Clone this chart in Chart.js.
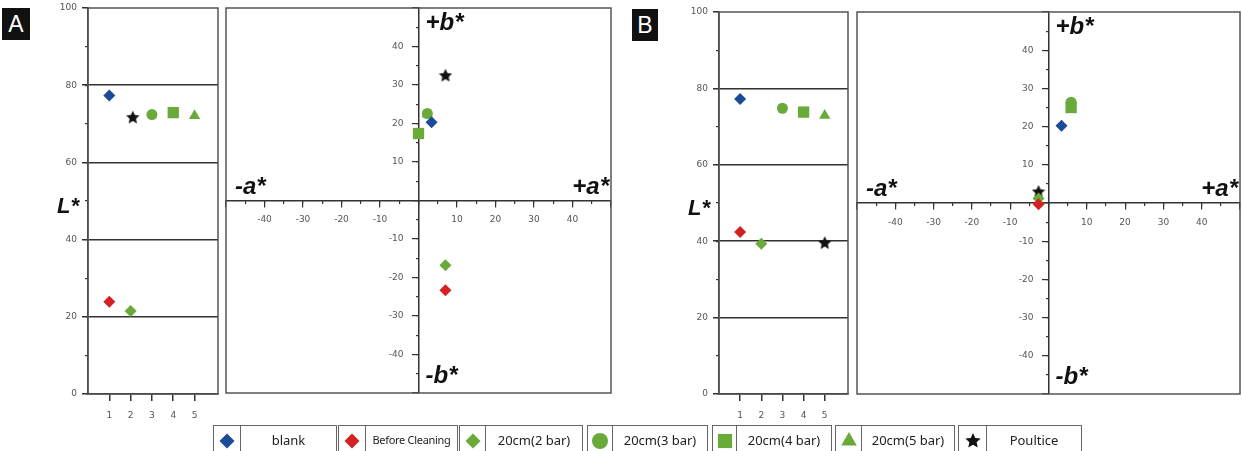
<!DOCTYPE html>
<html>
<head>
<meta charset="utf-8">
<script src="https://cdn.jsdelivr.net/npm/chart.js@4/dist/chart.umd.min.js"></script>
<style>
  html, body { margin: 0; padding: 0; background: #fff; }
  #wrap { position: relative; width: 1242px; height: 451px; overflow: hidden; }
  #wrap canvas.layer { position: absolute; left: 0; top: 0; }
  .tag { position: absolute; background: #111; color: #fff; font: 23px "Liberation Sans", Arial, sans-serif; text-align: center; }
  .leg { position: absolute; top: 425px; height: 32px; display: flex; }
  .leg .ic, .leg .tx { border: 1.5px solid #666; box-sizing: border-box; height: 32px; }
  .leg .ic { display: flex; justify-content: center; padding-top: 6px; }
  .leg .tx { border-left: none; font: 13px "Noto Sans", sans-serif; color: #222; text-align: center; line-height: 28px; white-space: nowrap; }
</style>
</head>
<body>
<div id="wrap">
  <canvas class="layer" id="lA" width="1242" height="451"></canvas>
  <canvas class="layer" id="abA" width="1242" height="451"></canvas>
  <canvas class="layer" id="lB" width="1242" height="451"></canvas>
  <canvas class="layer" id="abB" width="1242" height="451"></canvas>
  <div class="tag" style="left:2px;top:8px;width:28px;height:32px;line-height:32px;">A</div>
  <div class="tag" style="left:632px;top:9px;width:26px;height:32px;line-height:32px;">B</div>
</div>
<script>
// samples (one dataset each)
var samples = ["blank", "Before Cleaning", "20cm(2 bar)", "20cm(3 bar)", "20cm(4 bar)", "20cm(5 bar)", "Poultice"];
var lTicks = [1, 2, 3, 4, 5];

// panel A
var lPosA = [1, 1, 2, 3, 4, 5, 2.1];
var lValA = [77.3, 23.9, 21.5, 72.4, 72.9, 72.1, 71.7];
var aValA = [3.4, 7.0, 7.0, 2.3, 0.0, 2.3, 7.0];
var bValA = [20.3, -23.3, -16.8, 22.6, 17.4, 22.4, 32.5];

// panel B
var lPosB = [1, 1, 2, 3, 4, 5, 5];
var lValB = [77.2, 42.4, 39.3, 74.8, 73.8, 72.9, 39.6];
var aValB = [3.4, -2.6, -2.6, 5.9, 5.9, 5.9, -2.6];
var bValB = [20.2, -0.3, 1.2, 26.4, 25.0, 25.3, 3.0];

var colors = ["#1b4a96", "#d42222", "#69aa3b", "#69aa3b", "#69aa3b", "#69aa3b", "#111111"];
var shapes = ["rectRot", "rectRot", "rectRot", "circle", "rect", "triangle", "star"];
var radii = [6, 6, 6, 5.5, 8, 6.5, 6];

var axisColor = "#333";
var labelColor = "#555";
var tickFont = { family: "'DejaVu Sans', sans-serif", size: 9 };
var axisTitleFont = "italic bold 24px 'Liberation Sans'";

function drawMarker(ctx, style, x, y, r, color) {
  ctx.fillStyle = color;
  ctx.beginPath();
  if (style == "rectRot") {
    ctx.moveTo(x, y - r); ctx.lineTo(x + r, y); ctx.lineTo(x, y + r); ctx.lineTo(x - r, y);
  } else if (style == "circle") {
    ctx.arc(x, y, r, 0, Math.PI * 2);
  } else if (style == "rect") {
    var h = r * Math.SQRT1_2;
    ctx.rect(x - h, y - h, 2 * h, 2 * h);
  } else if (style == "triangle") {
    for (var k = 0; k < 3; k++) {
      var a = k * 2 * Math.PI / 3;
      ctx[k ? "lineTo" : "moveTo"](x + Math.sin(a) * r, y - Math.cos(a) * r);
    }
  } else if (style == "star") {
    for (var j = 0; j < 10; j++) {
      var rr = j % 2 ? r * 0.48 : r;
      var b = j * Math.PI / 5;
      ctx[j ? "lineTo" : "moveTo"](x + Math.sin(b) * rr, y - Math.cos(b) * rr);
    }
  }
  ctx.closePath();
  ctx.fill();
}

function starImage(size) {
  var c = document.createElement("canvas");
  c.width = c.height = size;
  drawMarker(c.getContext("2d"), "star", size / 2, size / 2 + 0.5, size / 2, "#111");
  return c;
}
var starImg = starImage(14);

function makeDatasets(xs, ys) {
  return samples.map(function (name, i) {
    return {
      label: name,
      data: [{ x: xs[i], y: ys[i] }],
      pointStyle: shapes[i] == "star" ? starImg : shapes[i],
      pointRadius: radii[i],
      backgroundColor: colors[i],
      borderWidth: 0
    };
  });
}

// keep the scale from pushing the plot area around
function fixSize(w, h) {
  return function (s) {
    if (w !== null) s.width = w;
    if (h !== null) s.height = h;
    s.paddingTop = s.paddingBottom = s.paddingLeft = s.paddingRight = 0;
  };
}

// short tick marks only (no line, no labels)
function minorAxis(axis, min, max, pos, step) {
  return {
    axis: axis, min: min, max: max, position: pos,
    afterFit: axis == "x" ? fixSize(null, 0) : fixSize(0, null),
    border: { display: false },
    grid: { drawOnChartArea: false, tickLength: 3, color: axisColor, lineWidth: 1.2 },
    ticks: { stepSize: step, display: false, autoSkip: false }
  };
}

// frame round the plot area
var framePlugin = {
  id: "frame",
  beforeDatasetsDraw: function (chart) {
    var ca = chart.chartArea, ctx = chart.ctx;
    ctx.save();
    ctx.strokeStyle = "#555";
    ctx.lineWidth = 1.5;
    ctx.strokeRect(ca.left, ca.top, ca.right - ca.left, ca.bottom - ca.top);
    ctx.restore();
  }
};

var lLabelPlugin = {
  id: "lLabel",
  afterDraw: function (chart) {
    var ctx = chart.ctx, ca = chart.chartArea;
    ctx.save();
    ctx.font = "italic bold 22px 'Liberation Sans'";
    ctx.fillStyle = "#111";
    ctx.textAlign = "left";
    ctx.fillText("L*", ca.left - 31, chart.scales.y.getPixelForValue(50) + 12);
    ctx.restore();
  }
};

var abLabelPlugin = {
  id: "abLabel",
  afterDraw: function (chart) {
    var ctx = chart.ctx, ca = chart.chartArea;
    var x0 = chart.scales.x.getPixelForValue(0), y0 = chart.scales.y.getPixelForValue(0);
    ctx.save();
    ctx.font = axisTitleFont;
    ctx.fillStyle = "#111";
    ctx.textAlign = "left";
    ctx.fillText("+b*", x0 + 7, ca.top + 22);
    ctx.fillText("-b*", x0 + 7, ca.bottom - 10);
    ctx.fillText("-a*", ca.left + 9, y0 - 7);
    ctx.textAlign = "right";
    ctx.fillText("+a*", ca.right - 2, y0 - 7);
    ctx.restore();
  }
};

function lChart(id, xs, ys, pad) {
  return new Chart(document.getElementById(id), {
    type: "scatter",
    data: { datasets: makeDatasets(xs, ys) },
    options: {
      responsive: false,
      animation: false,
      events: [],
      layout: { padding: pad, autoPadding: false },
      plugins: { legend: { display: false }, tooltip: { enabled: false } },
      scales: {
        x: {
          min: 0, max: 6.1,
          afterBuildTicks: function (s) { s.ticks = lTicks.map(function (v) { return { value: v }; }); },
          afterFit: fixSize(null, 30),
          border: { color: axisColor, width: 1.5 },
          grid: { drawOnChartArea: false, tickLength: 7, color: axisColor, lineWidth: 1.5 },
          ticks: { padding: 9, color: labelColor, font: tickFont, autoSkip: false, maxRotation: 0 }
        },
        y: {
          min: 0, max: 100,
          afterFit: fixSize(30, null),
          border: { color: axisColor, width: 1.5 },
          grid: {
            tickLength: 6, lineWidth: 1.5, tickColor: axisColor,
            color: function (c) {
              var v = c.tick ? c.tick.value : 0;
              return (v > 0 && v < 100) ? axisColor : "rgba(0,0,0,0)";
            }
          },
          ticks: { stepSize: 20, padding: 5, color: labelColor, font: tickFont, autoSkip: false }
        },
        yMinor: minorAxis("y", 0, 100, { x: 0 }, 10)
      }
    },
    plugins: [framePlugin, lLabelPlugin]
  });
}

function abChart(id, xs, ys, pad) {
  var lab = function (v) { return (v != 0 && Math.abs(v) < 50) ? v : ""; };
  return new Chart(document.getElementById(id), {
    type: "scatter",
    data: { datasets: makeDatasets(xs, ys) },
    options: {
      responsive: false,
      animation: false,
      events: [],
      layout: { padding: pad, autoPadding: false },
      plugins: { legend: { display: false }, tooltip: { enabled: false } },
      scales: {
        x: {
          min: -50, max: 50, position: { y: 0 },
          afterFit: fixSize(null, 0),
          border: { color: axisColor, width: 1.5 },
          grid: { drawOnChartArea: false, tickLength: 6, color: axisColor, lineWidth: 1.2 },
          ticks: { stepSize: 10, padding: 8, color: labelColor, font: tickFont, autoSkip: false, maxRotation: 0, callback: lab }
        },
        xMinor: minorAxis("x", -50, 50, { y: 0 }, 5),
        y: {
          min: -50, max: 50, position: { x: 0 },
          afterFit: fixSize(0, null),
          border: { color: axisColor, width: 1.5 },
          grid: { drawOnChartArea: false, tickLength: 6, color: axisColor, lineWidth: 1.2 },
          ticks: { stepSize: 10, display: false }
        },
        yMinor: minorAxis("y", -50, 50, { x: 0 }, 5),
        // second copy of the b* axis, only for its labels, set left of the axis line
        yLab: {
          axis: "y", min: -50, max: 50, position: { x: -3.9 },
          afterFit: fixSize(0, null),
          border: { display: false },
          grid: { display: false, drawTicks: false },
          ticks: { stepSize: 10, padding: 0, color: labelColor, font: tickFont, autoSkip: false, callback: lab }
        }
      }
    },
    plugins: [framePlugin, abLabelPlugin]
  });
}

lChart("lA", lPosA, lValA, { left: 58, right: 1024, top: 8, bottom: 27 });
abChart("abA", aValA, bValA, { left: 226, right: 631, top: 8, bottom: 58 });
lChart("lB", lPosB, lValB, { left: 689, right: 394, top: 12, bottom: 27 });
abChart("abB", aValB, bValB, { left: 857, right: 2, top: 12, bottom: 57 });

// legend boxes along the bottom
var legLeft = [213, 338, 459, 587, 712, 835, 958];
var legIcon = [28, 28, 27, 26, 25, 27, 29];
var legText = [96, 92, 97, 95, 95, 93, 95];
var legRad = [7.5, 7.5, 7.5, 8, 10, 9, 8];
var wrap = document.getElementById("wrap");
samples.forEach(function (name, i) {
  var item = document.createElement("div");
  item.className = "leg";
  item.style.left = legLeft[i] + "px";
  var ic = document.createElement("div");
  ic.className = "ic";
  ic.style.width = legIcon[i] + "px";
  var c = document.createElement("canvas");
  c.width = 18; c.height = 18;
  drawMarker(c.getContext("2d"), shapes[i], 9, 9, legRad[i], colors[i]);
  c.style.width = "18px"; c.style.height = "18px";
  ic.appendChild(c);
  var tx = document.createElement("div");
  tx.className = "tx";
  tx.style.width = legText[i] + "px";
  tx.textContent = name;
  if (name == "Before Cleaning") { tx.style.fontSize = "11px"; tx.style.letterSpacing = "-0.3px"; }
  item.appendChild(ic);
  item.appendChild(tx);
  wrap.appendChild(item);
});
</script>
</body>
</html>
